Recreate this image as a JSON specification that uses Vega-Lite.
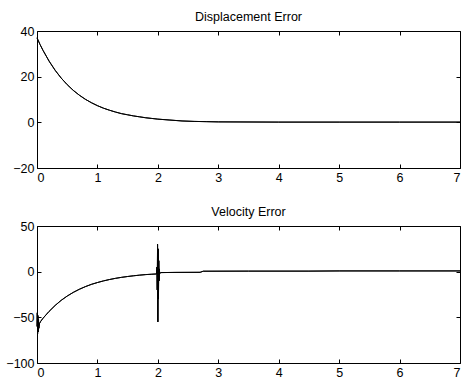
{
  "$schema": "https://vega.github.io/schema/vega-lite/v6.json",
  "padding": {"left": 5, "top": 10, "right": 0, "bottom": 0},
  "background": "white",
  "datasets": {
    "disp": [
      {"t": 0, "v": 37}, {"t": 0.05, "v": 34.1}, {"t": 0.1, "v": 31.5}, {"t": 0.2, "v": 26.8},
      {"t": 0.3, "v": 22.8}, {"t": 0.4, "v": 19.4}, {"t": 0.5, "v": 16.5}, {"t": 0.6, "v": 14.0},
      {"t": 0.7, "v": 11.9}, {"t": 0.8, "v": 10.1}, {"t": 0.9, "v": 8.6}, {"t": 1.0, "v": 7.3},
      {"t": 1.1, "v": 6.2}, {"t": 1.2, "v": 5.3}, {"t": 1.3, "v": 4.5}, {"t": 1.4, "v": 3.8},
      {"t": 1.5, "v": 3.3}, {"t": 1.6, "v": 2.8}, {"t": 1.7, "v": 2.4}, {"t": 1.8, "v": 2.0},
      {"t": 1.9, "v": 1.7}, {"t": 2.0, "v": 1.4}, {"t": 2.2, "v": 1.0}, {"t": 2.4, "v": 0.6},
      {"t": 2.6, "v": 0.4}, {"t": 2.8, "v": 0.3}, {"t": 3.0, "v": 0.2}, {"t": 4.0, "v": 0.1},
      {"t": 5.0, "v": 0.1}, {"t": 6.0, "v": 0.1}, {"t": 7.0, "v": 0.1}
    ],
    "vel": [
      {"t": 0, "v": -60}, {"t": 0.005, "v": -45}, {"t": 0.01, "v": -68}, {"t": 0.015, "v": -48},
      {"t": 0.02, "v": -66}, {"t": 0.025, "v": -52}, {"t": 0.03, "v": -62}, {"t": 0.04, "v": -57},
      {"t": 0.06, "v": -54.5}, {"t": 0.1, "v": -51}, {"t": 0.2, "v": -43.5}, {"t": 0.3, "v": -37},
      {"t": 0.4, "v": -31.4}, {"t": 0.5, "v": -26.7}, {"t": 0.6, "v": -22.7}, {"t": 0.7, "v": -19.3},
      {"t": 0.8, "v": -16.4}, {"t": 0.9, "v": -13.9}, {"t": 1.0, "v": -11.9}, {"t": 1.1, "v": -10.1},
      {"t": 1.2, "v": -8.6}, {"t": 1.3, "v": -7.3}, {"t": 1.4, "v": -6.2}, {"t": 1.5, "v": -5.3},
      {"t": 1.6, "v": -4.5}, {"t": 1.7, "v": -3.8}, {"t": 1.8, "v": -3.2}, {"t": 1.9, "v": -2.8},
      {"t": 1.98, "v": -2.5}, {"t": 1.985, "v": 5}, {"t": 1.99, "v": -20}, {"t": 1.995, "v": 30},
      {"t": 2.0, "v": -55}, {"t": 2.005, "v": 25}, {"t": 2.01, "v": -30}, {"t": 2.015, "v": 12},
      {"t": 2.02, "v": -10}, {"t": 2.025, "v": 3}, {"t": 2.03, "v": -2}, {"t": 2.05, "v": -1},
      {"t": 2.3, "v": -0.8}, {"t": 2.7, "v": -0.7}, {"t": 2.75, "v": 0.5}, {"t": 3.5, "v": 0.6},
      {"t": 4.5, "v": 0.6}, {"t": 5.0, "v": 0.8}, {"t": 6.0, "v": 0.8}, {"t": 7.0, "v": 0.8}
    ]
  },
  "vconcat": [
    {
      "title": {"text": "Displacement Error"},
      "width": 423,
      "height": 137,
      "data": {"name": "disp"},
      "layer": [
        {
          "mark": {"type": "line", "color": "black", "strokeWidth": 1},
          "encoding": {
            "x": {"field": "t", "type": "quantitative", "scale": {"domain": [0, 7], "nice": false, "zero": false},
                  "axis": {"orient": "bottom", "values": [0, 1, 2, 3, 4, 5, 6, 7]}},
            "y": {"field": "v", "type": "quantitative", "scale": {"domain": [-20, 40], "nice": false},
                  "axis": {"orient": "left", "values": [-20, 0, 20, 40]}}
          }
        },
        {
          "mark": {"type": "line", "color": "black", "strokeWidth": 1},
          "encoding": {
            "x": {"field": "t", "type": "quantitative", "scale": {"domain": [0, 7], "nice": false, "zero": false},
                  "axis": {"orient": "top", "values": [0, 1, 2, 3, 4, 5, 6, 7], "labels": false}},
            "y": {"field": "v", "type": "quantitative", "scale": {"domain": [-20, 40], "nice": false},
                  "axis": {"orient": "right", "values": [-20, 0, 20, 40], "labels": false}}
          }
        }
      ],
      "resolve": {"axis": {"x": "independent", "y": "independent"}}
    },
    {
      "title": {"text": "Velocity Error"},
      "width": 423,
      "height": 137,
      "data": {"name": "vel"},
      "layer": [
        {
          "mark": {"type": "line", "color": "black", "strokeWidth": 1},
          "encoding": {
            "x": {"field": "t", "type": "quantitative", "scale": {"domain": [0, 7], "nice": false, "zero": false},
                  "axis": {"orient": "bottom", "values": [0, 1, 2, 3, 4, 5, 6, 7]}},
            "y": {"field": "v", "type": "quantitative", "scale": {"domain": [-100, 50], "nice": false},
                  "axis": {"orient": "left", "values": [-100, -50, 0, 50]}}
          }
        },
        {
          "mark": {"type": "line", "color": "black", "strokeWidth": 1},
          "encoding": {
            "x": {"field": "t", "type": "quantitative", "scale": {"domain": [0, 7], "nice": false, "zero": false},
                  "axis": {"orient": "top", "values": [0, 1, 2, 3, 4, 5, 6, 7], "labels": false}},
            "y": {"field": "v", "type": "quantitative", "scale": {"domain": [-100, 50], "nice": false},
                  "axis": {"orient": "right", "values": [-100, -50, 0, 50], "labels": false}}
          }
        }
      ],
      "resolve": {"axis": {"x": "independent", "y": "independent"}}
    }
  ],
  "spacing": 58,
  "bounds": "flush",
  "config": {
    "view": {"stroke": "black", "strokeWidth": 1},
    "axis": {
      "domain": false,
      "grid": false,
      "title": null,
      "tickSize": -4,
      "tickColor": "black",
      "labelColor": "black",
      "labelFont": "Liberation Sans",
      "labelFontSize": 12.5,
      "labelPadding": 7
    },
    "title": {
      "font": "Liberation Sans",
      "fontSize": 12.5,
      "fontWeight": "normal",
      "color": "black",
      "anchor": "middle",
      "offset": 2
    }
  }
}
